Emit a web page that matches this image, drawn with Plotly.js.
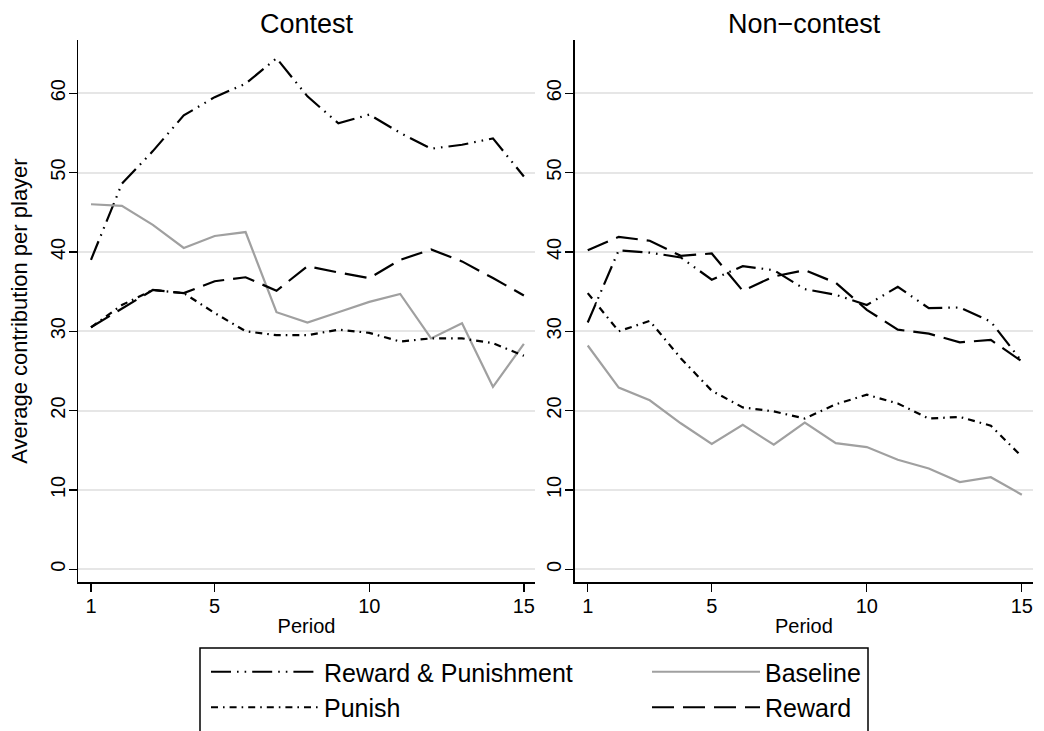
<!DOCTYPE html>
<html>
<head>
<meta charset="utf-8">
<script src="https://cdn.plot.ly/plotly-3.0.1.min.js"></script>
<style>html,body{margin:0;padding:0;background:#fff;}#chart{width:1044px;height:731px;}</style>
</head>
<body>
<div id="chart"></div>
<script>
// ---- data ----
var periods = [1,2,3,4,5,6,7,8,9,10,11,12,13,14,15];

var contestRP       = [39.0,48.6,52.7,57.2,59.5,61.2,64.4,59.6,56.2,57.3,55.0,53.0,53.5,54.3,49.5];
var contestBaseline = [46.0,45.8,43.4,40.5,42.0,42.5,32.4,31.1,32.4,33.7,34.7,29.1,31.0,23.0,28.4];
var contestPunish   = [30.5,33.3,35.2,34.8,32.3,30.0,29.5,29.5,30.2,29.8,28.7,29.1,29.1,28.5,26.9];
var contestReward   = [30.5,32.9,35.2,34.8,36.3,36.8,35.1,38.2,37.4,36.7,39.0,40.3,38.8,36.7,34.5];

var noncontestRP       = [31.1,40.2,39.9,39.3,36.5,38.2,37.7,35.3,34.6,33.3,35.6,32.9,33.0,31.2,26.2];
var noncontestBaseline = [28.2,22.9,21.3,18.4,15.8,18.2,15.7,18.5,15.9,15.4,13.8,12.7,11.0,11.6,9.4];
var noncontestPunish   = [34.8,30.0,31.3,26.6,22.5,20.4,19.9,19.0,20.8,22.0,20.9,19.0,19.2,18.1,14.2];
var noncontestReward   = [40.2,41.9,41.4,39.5,39.8,35.1,36.9,37.7,36.1,32.7,30.2,29.7,28.6,28.9,26.2];

var seriesNames = ['Reward & Punishment','Baseline','Punish','Reward'];
var panelTitles = ['Contest','Non\u2212contest'];
var xTicks = [1,5,10,15];
var yTicks = [0,10,20,30,40,50,60];

// ---- styles ----
var styles = [
  {color:'#000000', width:2.2, dash:'20px,6px,1.6px,6px,1.6px,6px'},
  {color:'#a0a0a0', width:2.2, dash:'solid'},
  {color:'#000000', width:2.2, dash:'7px,5px,1.6px,5px'},
  {color:'#000000', width:2.2, dash:'22px,9px'}
];

var contestData = [contestRP, contestBaseline, contestPunish, contestReward];
var noncontestData = [noncontestRP, noncontestBaseline, noncontestPunish, noncontestReward];

var traces = [];
for (var i = 0; i < 4; i++) {
  traces.push({x: periods, y: contestData[i], type:'scatter', mode:'lines',
    name: seriesNames[i], line: styles[i], xaxis:'x', yaxis:'y', showlegend:true, hoverinfo:'x+y+name'});
}
for (var j = 0; j < 4; j++) {
  traces.push({x: periods, y: noncontestData[j], type:'scatter', mode:'lines',
    name: seriesNames[j], line: styles[j], xaxis:'x2', yaxis:'y2', showlegend:false, hoverinfo:'x+y+name'});
}

var FONT = 'Liberation Sans, Arial, Helvetica, sans-serif';
var W = 1044, H = 731, ML = 78, MR = 11, MT = 40, MB = 149;
var PW = W - ML - MR, PH = H - MT - MB;
function px(xp){ return (xp - ML) / PW; }
function py(yp){ return (H - MB - yp) / PH; }

function xAxis(domain, anchor){
  return {domain: domain, anchor: anchor, range:[0.58,15.36], tickvals: xTicks, ticktext: xTicks.map(String),
    showgrid:false, zeroline:false, showline:true, linecolor:'#000', linewidth:1.5,
    ticks:'outside', ticklen:8, tickwidth:1.3, tickcolor:'#000', ticklabelstandoff:-3,
    tickfont:{family:FONT, size:20, color:'#000'},
    title:{text:'Period', font:{family:FONT, size:20, color:'#000'}, standoff:3}, automargin:false};
}
function yAxis(anchor, withTitle){
  var a = {anchor: anchor, domain:[0,1], range:[-1.6,66.7], tickvals: yTicks, ticktext: yTicks.map(String),
    showgrid:true, gridcolor:'#e6e6e6', gridwidth:2, zeroline:false, showline:true, linecolor:'#000', linewidth:1.5,
    ticks:'outside', ticklen:8, tickwidth:1.3, tickcolor:'#000', tickangle:-90, ticklabelstandoff:-4,
    tickfont:{family:FONT, size:20, color:'#000'}, automargin:false};
  if (withTitle) a.title = {text:'Average contribution per player', font:{family:FONT, size:22, color:'#000'}, standoff:13};
  return a;
}

var layout = {
  width: W, height: H,
  margin:{l:ML, r:MR, t:MT, b:MB, autoexpand:false},
  paper_bgcolor:'#fff', plot_bgcolor:'#fff',
  font:{family:FONT, color:'#000'},
  xaxis: xAxis([0, px(535)], 'y'),
  yaxis: yAxis('x', true),
  xaxis2: xAxis([px(574.7), 1], 'y2'),
  yaxis2: yAxis('x2', false),
  showlegend:true,
  legend:{orientation:'h', x:px(206), y:py(649), xanchor:'left', yanchor:'top',
    itemwidth:108, entrywidth:318, entrywidthmode:'pixels', traceorder:'normal',
    font:{family:FONT, size:25, color:'#000'}, bgcolor:'rgba(0,0,0,0)', borderwidth:0, itemclick:false, itemdoubleclick:false},
  shapes:[{type:'rect', xref:'paper', yref:'paper', x0:px(200), x1:px(868), y0:py(745), y1:py(648),
    line:{color:'#000', width:1.5}, fillcolor:'rgba(0,0,0,0)', layer:'above'}],
  annotations:[
    {text: panelTitles[0], xref:'paper', yref:'paper', x:px(307), y:py(24), xanchor:'center', yanchor:'middle', showarrow:false, font:{family:FONT, size:27, color:'#000'}},
    {text: panelTitles[1], xref:'paper', yref:'paper', x:px(804.5), y:py(24), xanchor:'center', yanchor:'middle', showarrow:false, font:{family:FONT, size:27, color:'#000'}}
  ]
};

Plotly.newPlot('chart', traces, layout, {displayModeBar:false, staticPlot:true});
</script>
</body>
</html>
